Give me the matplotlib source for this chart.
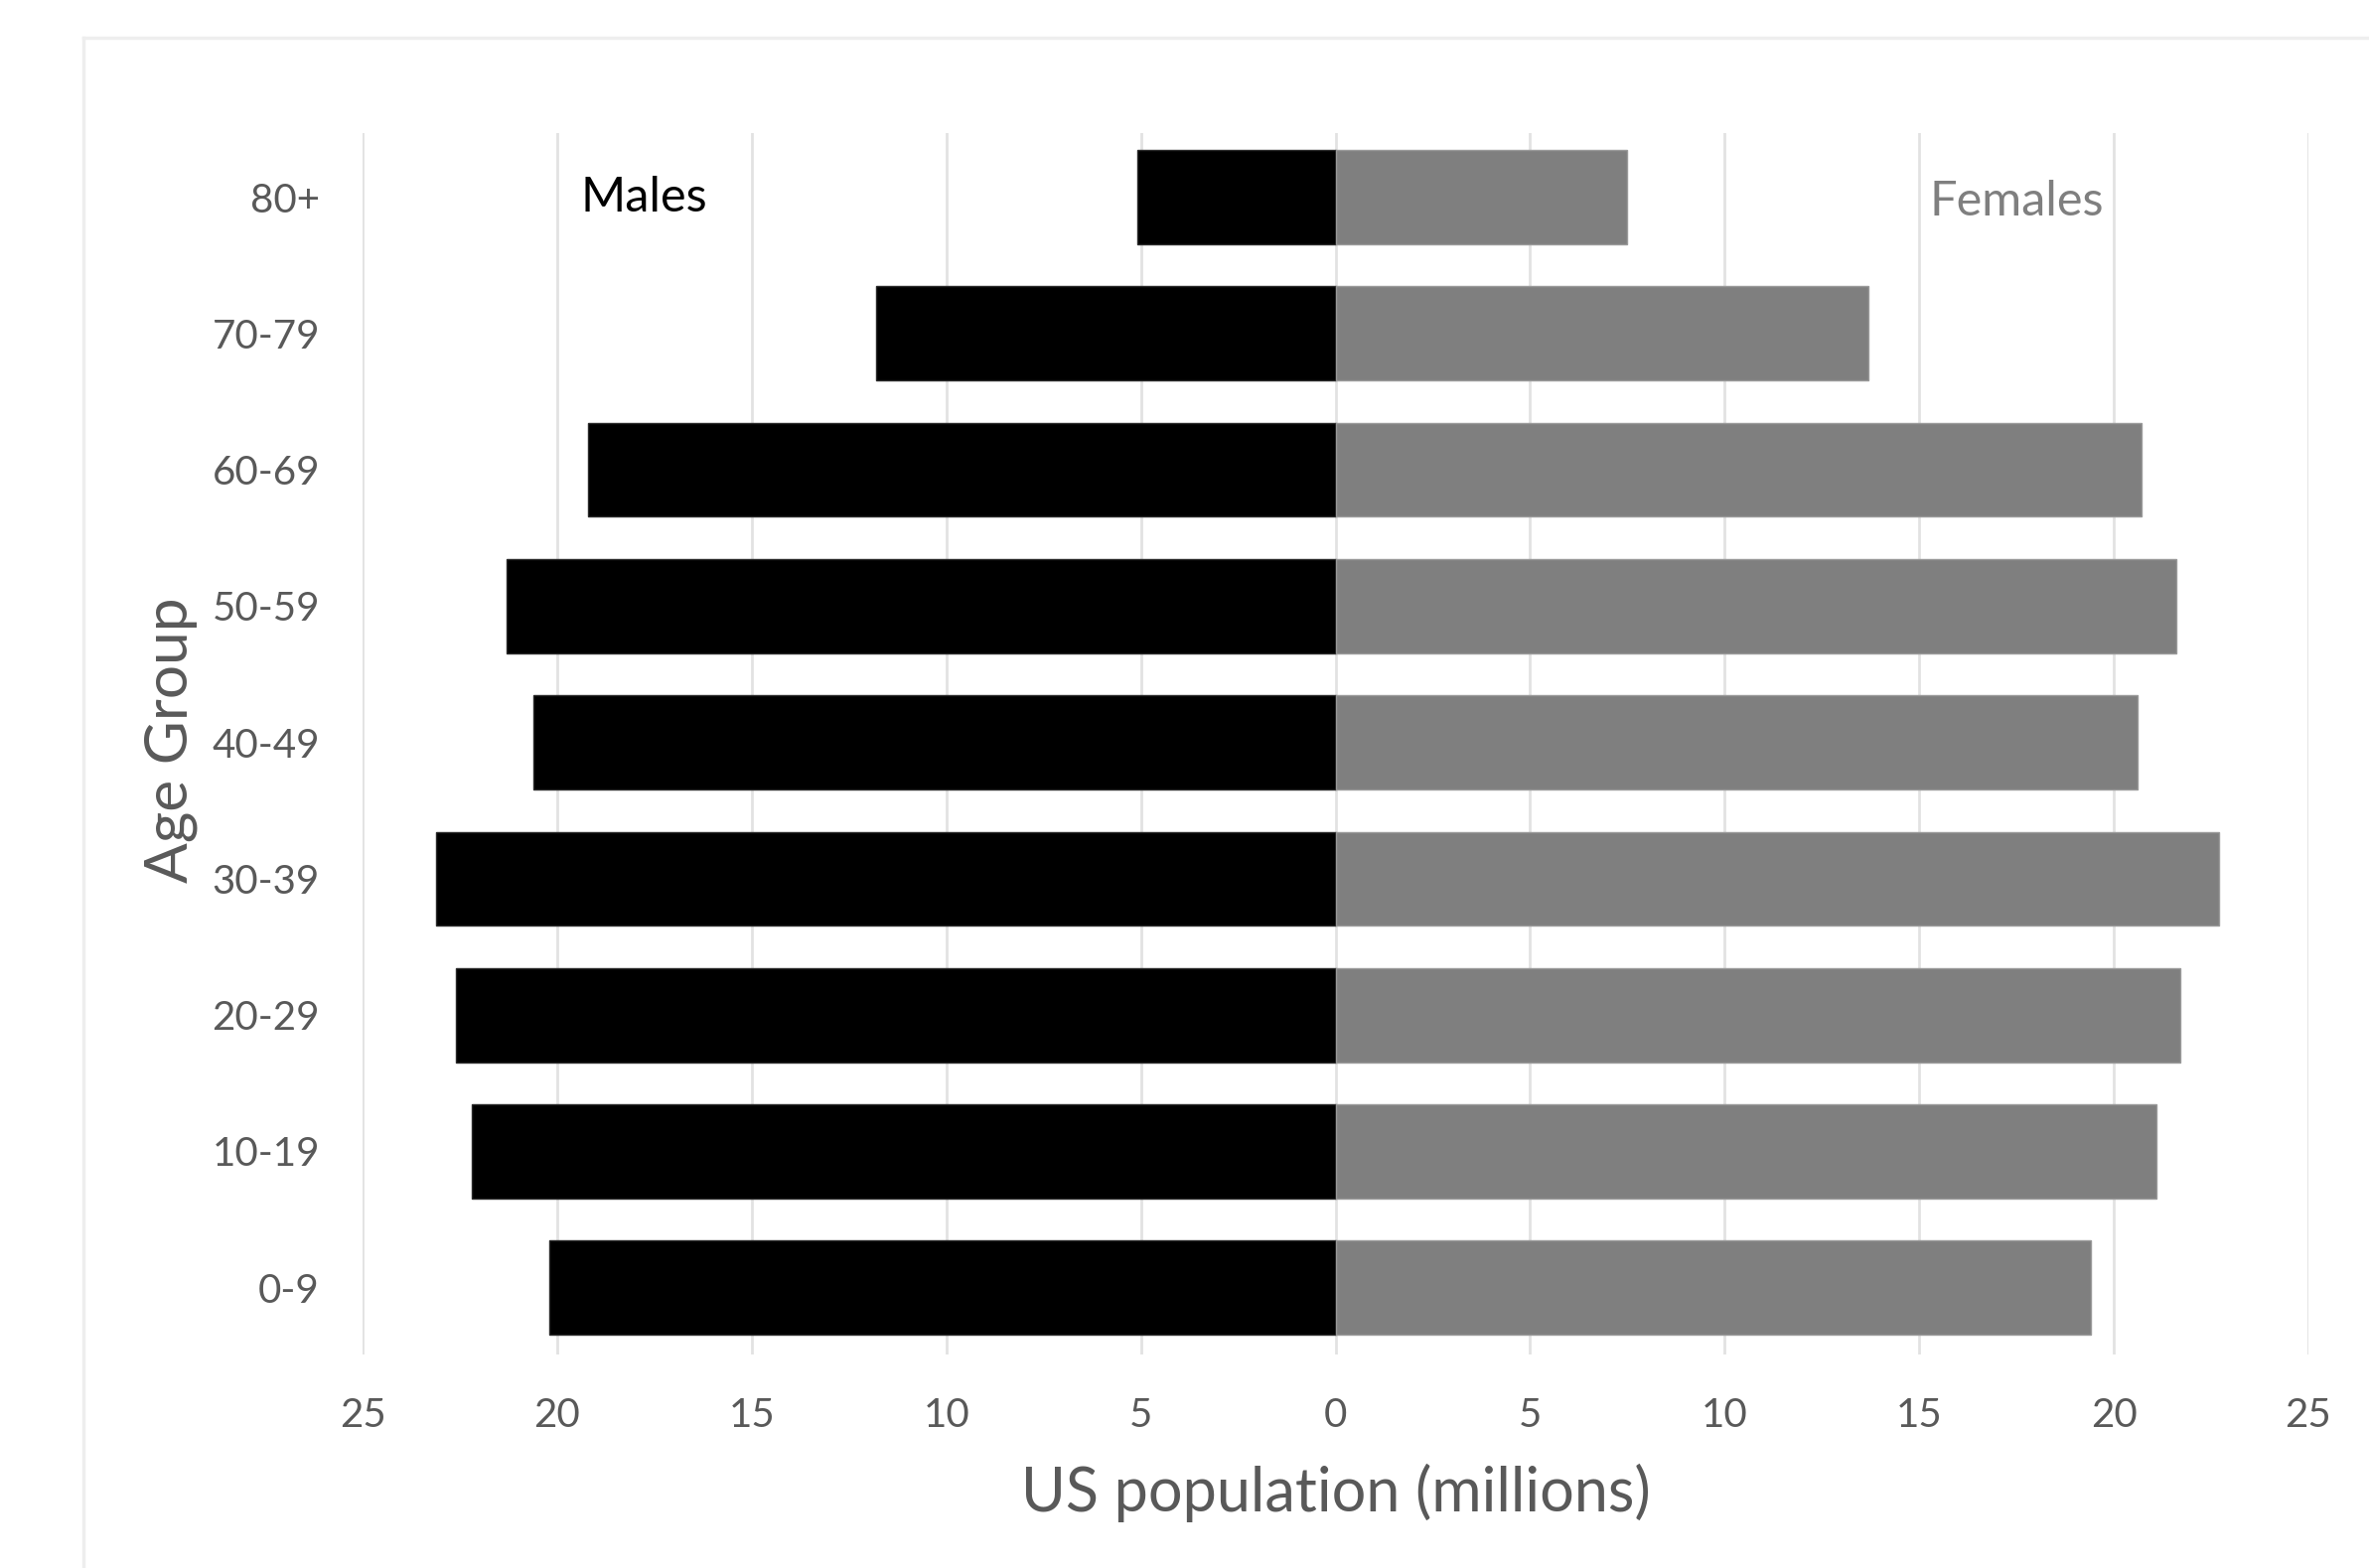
import matplotlib
matplotlib.use("Agg")
import matplotlib.pyplot as plt
from matplotlib.lines import Line2D
from matplotlib.ticker import FixedLocator, FixedFormatter

# US population by age group and sex (millions)
age_groups = ["0-9", "10-19", "20-29", "30-39", "40-49", "50-59", "60-69", "70-79", "80+"]
males = [20.2, 22.2, 22.6, 23.1, 20.6, 21.3, 19.2, 11.8, 5.1]
females = [19.4, 21.1, 21.7, 22.7, 20.6, 21.6, 20.7, 13.7, 7.5]
x_ticks = [-25, -20, -15, -10, -5, 0, 5, 10, 15, 20, 25]

plt.rcParams["font.family"] = ["Lato", "DejaVu Sans"]
label_grey = "#595959"

W, H = 2385, 1579
fig = plt.figure(figsize=(W / 100, H / 100), dpi=100)
fig.patch.set_facecolor("white")

# chart-area outline (light frame)
fx, fy = 84 / W, 1 - 38 / H
fig.add_artist(Line2D([fx, 1.0], [fy, fy], transform=fig.transFigure,
                      color="#eeeeee", lw=2.5))
fig.add_artist(Line2D([fx, fx], [fy, 0.0], transform=fig.transFigure,
                      color="#eeeeee", lw=2.5))

left, right, top, bottom = 365 / W, 2324 / W, 1 - 134 / H, 1 - 1364 / H
ax = fig.add_axes([left, bottom, right - left, top - bottom])

ypos = list(range(len(age_groups)))
ax.barh(ypos, [-m for m in males], height=0.69, color="#000000",
        edgecolor="#2a2a2a", linewidth=1.0, zorder=3)
ax.barh(ypos, females, height=0.69, color="#7f7f7f",
        edgecolor="#9a9a9a", linewidth=1.0, zorder=3)

ax.set_xlim(-25, 25)
ax.set_ylim(-0.49, len(age_groups) - 0.53)

ax.xaxis.set_major_locator(FixedLocator(x_ticks))
ax.xaxis.set_major_formatter(FixedFormatter([str(abs(t)) for t in x_ticks]))
ax.set_yticks(ypos)
ax.set_yticklabels(age_groups)

ax.grid(axis="x", color="#e2e2e2", lw=2.0, zorder=0)
ax.grid(axis="y", visible=False)
for s in ax.spines.values():
    s.set_visible(False)

ax.tick_params(axis="both", length=0, colors=label_grey, labelsize=29)
ax.tick_params(axis="y", pad=31)
ax.tick_params(axis="x", pad=31)

ax.set_xlabel("US population (millions)", fontsize=44, color=label_grey, va="center")
ax.xaxis.set_label_coords(0.5, -0.113)
ax.set_ylabel("Age Group", fontsize=43.5, color=label_grey, va="center")
ax.yaxis.set_label_coords(-0.0985, 0.503)

ax.text(-17.76, 8, "Males", fontsize=35, color="#000000", ha="center", va="center")
ax.text(17.5, 7.97, "Females", fontsize=35, color="#7f7f7f", ha="center", va="center")

fig.savefig("out.png", dpi=100, facecolor="white")
